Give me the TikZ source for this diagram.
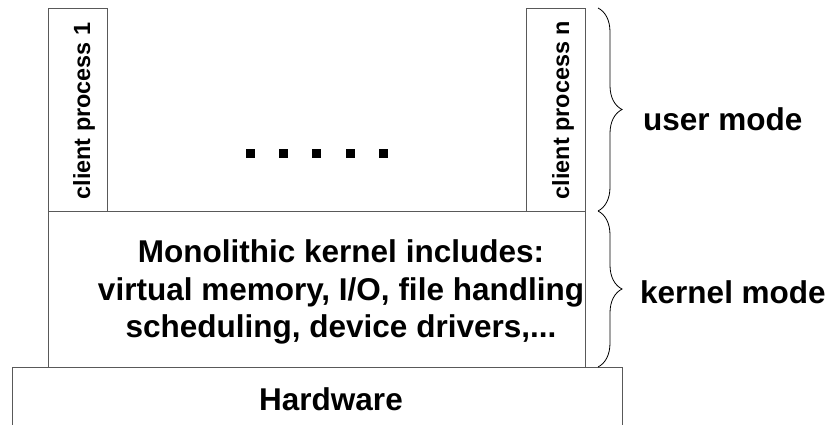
\documentclass[tikz,border=0pt]{standalone}
\usepackage{fontspec}
\setmainfont{Liberation Sans}
\usetikzlibrary{decorations.pathreplacing}

\tikzset{
  layer/.style={draw=black!65, line width=0.9pt},
  bigtext/.style={font=\fontsize{31.5}{37}\selectfont\bfseries, inner sep=0pt},
  proctext/.style={font=\fontsize{23.4}{28}\selectfont\bfseries, rotate=90, inner sep=0pt, anchor=base},
  modebrace/.style={decorate, decoration={brace, amplitude=24pt}, line width=0.8pt},
}

\begin{document}
\begin{tikzpicture}[x=1pt,y=-1pt]
            \useasboundingbox (0,0) rectangle (829,425);
            \clip (0,0) rectangle (829,425);

            % Draw the layers (processes, kernel, hardware)
            \draw[layer] (48,8) rectangle (107,211); % client process 1
            \draw[layer] (526,8) rectangle (585,211); % client process n
            \draw[layer] (48,211) rectangle (585,367); % kernel
            \draw[layer] (12,367) rectangle (622,440); % hardware, bottom cut off

            % Texts of the layers
            \node[proctext] (proc1) at (90,111) {client process 1};
            \node[proctext] (procn) at (569,110) {client process n};
            \node[bigtext, anchor=base] (kline1) at (341,262) {Monolithic kernel includes:};
            \node[bigtext, anchor=base] (kline2) at (341,300) {virtual memory, I/O, file handling};
            \node[bigtext, anchor=base] (kline3) at (341,337) {scheduling, device drivers,...};
            \node[bigtext, anchor=base] (hw) at (331,410) {Hardware};

            % The dots between the processes
            \foreach \x in {250.5,283.5,316.5,350.5,383.5}
                \fill (\x-4.5,149) rectangle (\x+4.5,158);

            % Braces for the modes
            \coordinate (umtop) at (598,8);
            \coordinate (split) at (598,211);
            \coordinate (kmbot) at (598,367);
            \draw[modebrace] (umtop) -- (split);
            \draw[modebrace] (split) -- (kmbot);
            \node[bigtext, anchor=base west] (usermode) at (643,130) {user mode};
            \node[bigtext, anchor=base west] (kernelmode) at (640,303) {kernel mode};
\end{tikzpicture}
\end{document}
